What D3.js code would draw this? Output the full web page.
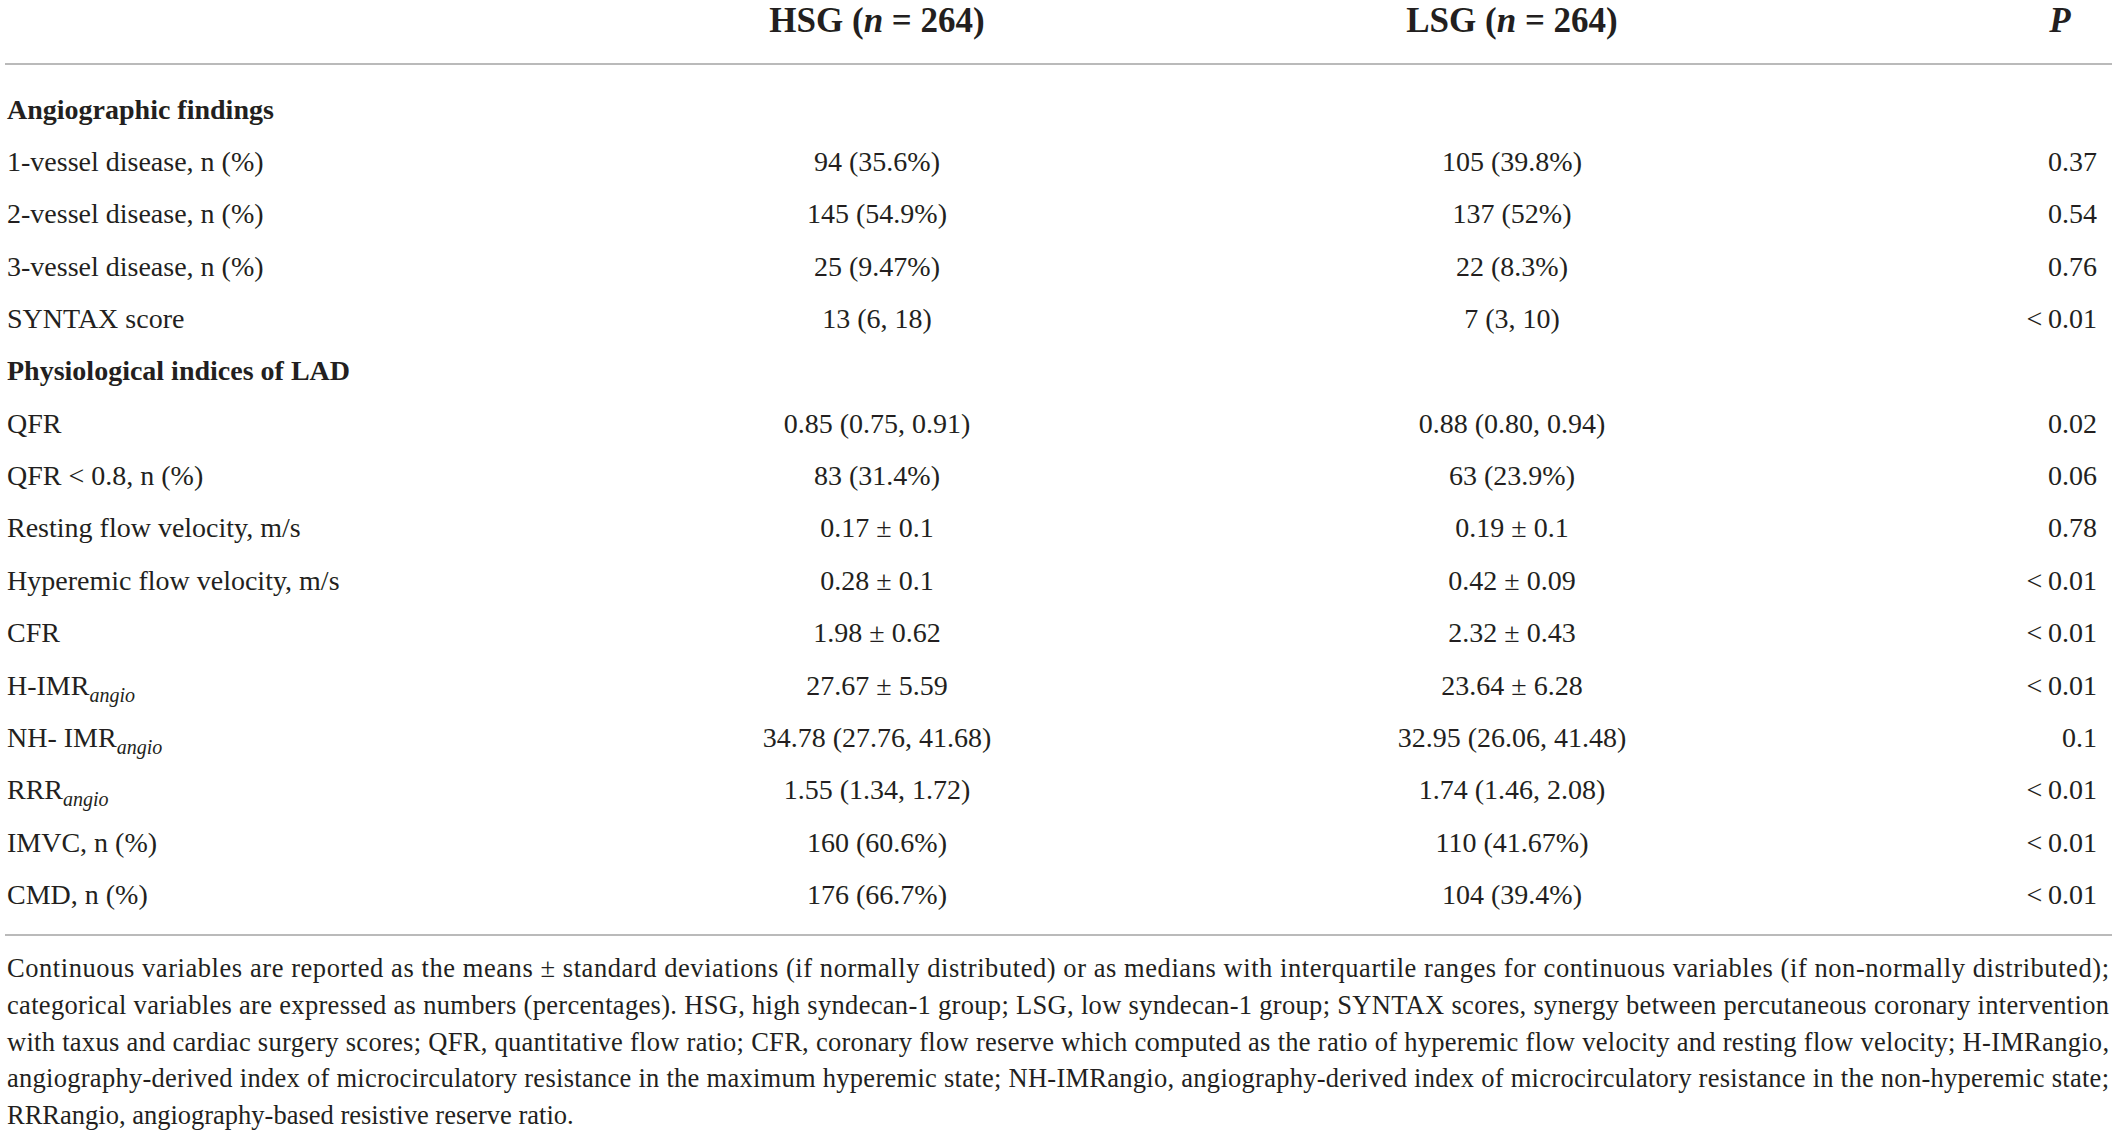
<!DOCTYPE html>
<html>
<head>
<meta charset="utf-8">
<script src="https://cdn.jsdelivr.net/npm/d3@7"></script>
<style>
  html, body { margin: 0; padding: 0; background: #fff; }
  #table { width: 2117px; height: 1138px; }
</style>
</head>
<body>
<div id="table"></div>
<script>
// Table content
const headers = ["HSG", "LSG"];
const groupN = [264, 264];

const labels = [
    "Angiographic findings",
    "1-vessel disease, n (%)",
    "2-vessel disease, n (%)",
    "3-vessel disease, n (%)",
    "SYNTAX score",
    "Physiological indices of LAD",
    "QFR",
    "QFR < 0.8, n (%)",
    "Resting flow velocity, m/s",
    "Hyperemic flow velocity, m/s",
    "CFR",
    "H-IMR",
    "NH- IMR",
    "RRR",
    "IMVC, n (%)",
    "CMD, n (%)"
];
const labelSubs = ["", "", "", "", "", "", "", "", "", "", "", "angio", "angio", "angio", "", ""];
const sectionRows = [0, 5];

const hsgValues = ["", "94 (35.6%)", "145 (54.9%)", "25 (9.47%)", "13 (6, 18)", "",
    "0.85 (0.75, 0.91)", "83 (31.4%)", "0.17 ± 0.1", "0.28 ± 0.1", "1.98 ± 0.62",
    "27.67 ± 5.59", "34.78 (27.76, 41.68)", "1.55 (1.34, 1.72)", "160 (60.6%)", "176 (66.7%)"];
const lsgValues = ["", "105 (39.8%)", "137 (52%)", "22 (8.3%)", "7 (3, 10)", "",
    "0.88 (0.80, 0.94)", "63 (23.9%)", "0.19 ± 0.1", "0.42 ± 0.09", "2.32 ± 0.43",
    "23.64 ± 6.28", "32.95 (26.06, 41.48)", "1.74 (1.46, 2.08)", "110 (41.67%)", "104 (39.4%)"];
const pValues = ["", "0.37", "0.54", "0.76", "<\u20090.01", "",
    "0.02", "0.06", "0.78", "<\u20090.01", "<\u20090.01",
    "<\u20090.01", "0.1", "<\u20090.01", "<\u20090.01", "<\u20090.01"];

const footnote = [
    "Continuous variables are reported as the means ± standard deviations (if normally distributed) or as medians with interquartile ranges for continuous variables (if non-normally distributed);",
    "categorical variables are expressed as numbers (percentages). HSG, high syndecan-1 group; LSG, low syndecan-1 group; SYNTAX scores, synergy between percutaneous coronary intervention",
    "with taxus and cardiac surgery scores; QFR, quantitative flow ratio; CFR, coronary flow reserve which computed as the ratio of hyperemic flow velocity and resting flow velocity; H-IMRangio,",
    "angiography-derived index of microcirculatory resistance in the maximum hyperemic state; NH-IMRangio, angiography-derived index of microcirculatory resistance in the non-hyperemic state;",
    "RRRangio, angiography-based resistive reserve ratio."
];

// Dimensions
const width = 2117;
const height = 1138;
const marginLeft = 7;
const marginRight = 5;
const font = "'Liberation Serif', 'DejaVu Serif', serif";
const ink = "#231f20";
const ruleColor = "#a3a3a3";

const svg = d3.select("#table")
    .append("svg")
    .attr("width", width)
    .attr("height", height)
    .attr("viewBox", [0, 0, width, height])
    .style("font-family", font)
    .attr("fill", ink);

// Column positions
const col = d3.scaleOrdinal()
    .domain(["label", "hsg", "lsg", "p"])
    .range([marginLeft, 877, 1512, 2097]);

// Row baselines
const y = d3.scalePoint()
    .domain(d3.range(labels.length))
    .range([118.6, 904]);

// Header
const head = svg.append("g")
    .style("font-size", "35px")
    .style("font-weight", "bold");

head.selectAll("text.group")
    .data(headers)
    .join("text")
    .attr("class", "group")
    .attr("x", (d, i) => col(i === 0 ? "hsg" : "lsg"))
    .attr("y", 32)
    .attr("text-anchor", "middle")
    .call(t => t.append("tspan").text(d => d + " ("))
    .call(t => t.append("tspan").style("font-style", "italic").text("n"))
    .call(t => t.append("tspan").text((d, i) => " = " + groupN[i] + ")"));

head.append("text")
    .attr("x", 2060)
    .attr("y", 32)
    .attr("text-anchor", "middle")
    .style("font-style", "italic")
    .text("P");

// Rules
svg.append("g")
    .attr("stroke", ruleColor)
    .attr("stroke-width", 1.6)
    .selectAll("line")
    .data([64, 935])
    .join("line")
    .attr("x1", marginLeft - 2)
    .attr("x2", width - marginRight)
    .attr("y1", d => d)
    .attr("y2", d => d);

// Body rows
const body = svg.append("g").style("font-size", "28px");

const labelText = body.selectAll("text.label")
    .data(labels)
    .join("text")
    .attr("class", "label")
    .attr("x", col("label"))
    .attr("y", (d, i) => y(i))
    .style("font-weight", (d, i) => sectionRows.includes(i) ? "bold" : null)
    .text(d => d);

labelText.filter((d, i) => labelSubs[i])
    .append("tspan")
    .attr("dy", 7)
    .style("font-size", "20px")
    .style("font-style", "italic")
    .text(d => labelSubs[labels.indexOf(d)]);

body.selectAll("text.hsg")
    .data(hsgValues)
    .join("text")
    .attr("class", "hsg")
    .attr("x", col("hsg"))
    .attr("y", (d, i) => y(i))
    .attr("text-anchor", "middle")
    .text(d => d);

body.selectAll("text.lsg")
    .data(lsgValues)
    .join("text")
    .attr("class", "lsg")
    .attr("x", col("lsg"))
    .attr("y", (d, i) => y(i))
    .attr("text-anchor", "middle")
    .text(d => d);

body.selectAll("text.p")
    .data(pValues)
    .join("text")
    .attr("class", "p")
    .attr("x", col("p"))
    .attr("y", (d, i) => y(i))
    .attr("text-anchor", "end")
    .text(d => d);

// Footnote, justified except for the last line
const fy = d3.scalePoint()
    .domain(d3.range(footnote.length))
    .range([977, 1124]);

svg.append("g")
    .style("font-size", "26.5px")
    .selectAll("text")
    .data(footnote)
    .join("text")
    .attr("x", marginLeft)
    .attr("y", (d, i) => fy(i))
    .attr("textLength", (d, i) => i < footnote.length - 1 ? width - marginLeft - marginRight - 3 : null)
    .attr("lengthAdjust", "spacing")
    .text(d => d);
</script>
</body>
</html>
